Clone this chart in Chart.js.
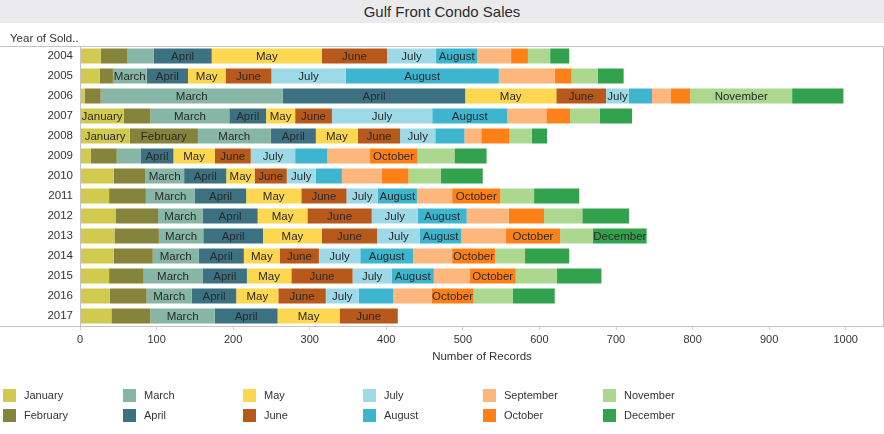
<!DOCTYPE html>
<html>
<head>
  <meta charset="UTF-8">
  <title>Gulf Front Condo Sales</title>
  <script src="https://cdn.jsdelivr.net/npm/chart.js"></script>
  <style>
    body { margin: 0; background: #fff; font-family: "Liberation Sans", Arial, sans-serif; color: #333; }
    #wrap { position: relative; width: 884px; height: 434px; overflow: hidden; }
    #titlebar {
      position: absolute; left: 0; top: 0; width: 884px; height: 23px;
      background: #ebebee; text-align: center; font-size: 15px; line-height: 24px; color: #2b2b2b;
    }
    #yearLabel { position: absolute; left: 10px; top: 32px; font-size: 11.5px; color: #333; }
    #chart { position: absolute; left: 0; top: 0; }
    #legend { position: absolute; left: 0; top: 389px; width: 884px; }
    .item { position: absolute; height: 13px; font-size: 11px; line-height: 13px; color: #333; white-space: nowrap; }
    .item span { display: inline-block; width: 13px; height: 13px; vertical-align: top; margin-right: 8px; }
  </style>
</head>
<body>
  <div id="wrap">
    <canvas id="chart" width="884" height="434"></canvas>
    <div id="titlebar">Gulf Front Condo Sales</div>
    <div id="yearLabel">Year of Sold..</div>
    <div id="legend"></div>
  </div>
  <script>
    const years = ["2004", "2005", "2006", "2007", "2008", "2009", "2010",
                   "2011", "2012", "2013", "2014", "2015", "2016", "2017"];
    const months = ["January", "February", "March", "April", "May", "June",
                    "July", "August", "September", "October", "November", "December"];
    const monthColors = ["#d2c94f", "#86833a", "#87b6a7", "#3b7180", "#fdd74f", "#b7591a",
                         "#9dd9e6", "#3db5cf", "#fdb67b", "#fd8118", "#acd78f", "#33a24f"];

    // records per month, one value per year (2004..2017)
    const jan = [27, 26, 6, 57, 65, 14, 44, 38, 47, 45, 44, 38, 39, 41];
    const feb = [35, 17, 21, 35, 89, 34, 41, 48, 55, 58, 51, 45, 48, 51];
    const mar = [34, 44, 238, 103, 95, 31, 51, 64, 58, 58, 60, 77, 59, 84];
    const apr = [76, 54, 238, 48, 59, 43, 55, 67, 72, 78, 59, 58, 58, 82];
    const may = [144, 49, 119, 38, 55, 54, 37, 72, 65, 77, 47, 58, 55, 81];
    const jun = [85, 60, 65, 48, 55, 47, 42, 59, 84, 72, 51, 80, 62, 76];
    const jul = [64, 97, 30, 131, 46, 58, 38, 41, 60, 56, 54, 51, 43, null];
    const aug = [54, 200, 30, 98, 38, 42, 34, 51, 64, 54, 69, 55, 45, null];
    const sep = [44, 73, 24, 51, 22, 55, 52, 46, 55, 58, 51, 47, 50, null];
    const oct = [22, 22, 26, 31, 37, 63, 35, 63, 46, 71, 56, 60, 55, null];
    const nov = [29, 34, 133, 39, 29, 48, 42, 44, 50, 43, 39, 54, 51, null];
    const dec = [25, 34, 67, 42, 20, 42, 55, 59, 61, 70, 58, 58, 55, null];
    const monthValues = [jan, feb, mar, apr, may, jun, jul, aug, sep, oct, nov, dec];

    const xTicks = [0, 100, 200, 300, 400, 500, 600, 700, 800, 900, 1000];
    const xMax = 1050;

    const FONT = '"Liberation Sans", Arial, sans-serif';

    // month name inside a segment when it fits
    const segmentLabels = {
      id: "segmentLabels",
      afterDatasetsDraw(chart) {
        const ctx = chart.ctx;
        ctx.save();
        ctx.font = "11.5px " + FONT;
        ctx.fillStyle = "#2a2a2a";
        ctx.textAlign = "center";
        ctx.textBaseline = "middle";
        chart.data.datasets.forEach((ds, i) => {
          chart.getDatasetMeta(i).data.forEach((bar, j) => {
            if (ds.data[j] == null) return;
            const w = Math.abs(bar.x - bar.base);
            if (ctx.measureText(ds.label).width <= w) {
              ctx.fillText(ds.label, (bar.x + bar.base) / 2, bar.y + 1);
            }
          });
        });
        ctx.restore();
      }
    };

    // grey frame round the plot, top and bottom rules run full width
    const frame = {
      id: "frame",
      afterDraw(chart) {
        const { ctx, chartArea: a, width } = chart;
        ctx.save();
        ctx.strokeStyle = "#c4c4c4";
        ctx.lineWidth = 1;
        ctx.beginPath();
        ctx.moveTo(0, a.top + 0.5); ctx.lineTo(width, a.top + 0.5);
        ctx.moveTo(0, a.bottom + 0.5); ctx.lineTo(width, a.bottom + 0.5);
        ctx.moveTo(a.left + 0.5, a.top); ctx.lineTo(a.left + 0.5, a.bottom);
        ctx.moveTo(a.right - 0.5, a.top); ctx.lineTo(a.right - 0.5, a.bottom);
        ctx.stroke();
        ctx.restore();
      }
    };

    new Chart(document.getElementById("chart"), {
      type: "bar",
      data: {
        labels: years,
        datasets: months.map((m, i) => ({
          label: m,
          data: monthValues[i],
          backgroundColor: monthColors[i],
          borderWidth: 0,
          barPercentage: 0.75,
          categoryPercentage: 1
        }))
      },
      options: {
        indexAxis: "y",
        responsive: false,
        animation: false,
        layout: { padding: { top: 46, left: 0, right: 0, bottom: 60 } },
        plugins: { legend: { display: false }, tooltip: { enabled: false } },
        scales: {
          x: {
            stacked: true,
            min: 0,
            max: xMax,
            afterFit: s => { s.height = 48; },
            afterBuildTicks: s => { s.ticks = xTicks.map(v => ({ value: v })); },
            border: { display: false },
            grid: { drawOnChartArea: false, tickLength: 4, color: "#d0d0d0" },
            ticks: {
              color: "#333", font: { family: FONT, size: 11 }, padding: 3, maxRotation: 0,
              callback: v => String(v)
            },
            title: {
              display: true, text: "Number of Records", color: "#333",
              font: { family: FONT, size: 11.5 }, padding: { top: 0, bottom: 10 }
            }
          },
          y: {
            stacked: true,
            afterFit: s => { s.width = 80; },
            border: { display: false },
            grid: { display: false, drawTicks: false },
            ticks: { color: "#333", font: { family: FONT, size: 11.5 }, padding: 7 }
          }
        }
      },
      plugins: [segmentLabels, frame]
    });

    // legend in six columns, two rows, filled column by column
    const legend = document.getElementById("legend");
    months.forEach((m, i) => {
      const d = document.createElement("div");
      d.className = "item";
      d.style.left = (3 + 120 * Math.floor(i / 2)) + "px";
      d.style.top = (20 * (i % 2)) + "px";
      d.innerHTML = '<span style="background:' + monthColors[i] + '"></span>' + m;
      legend.appendChild(d);
    });
  </script>
</body>
</html>
